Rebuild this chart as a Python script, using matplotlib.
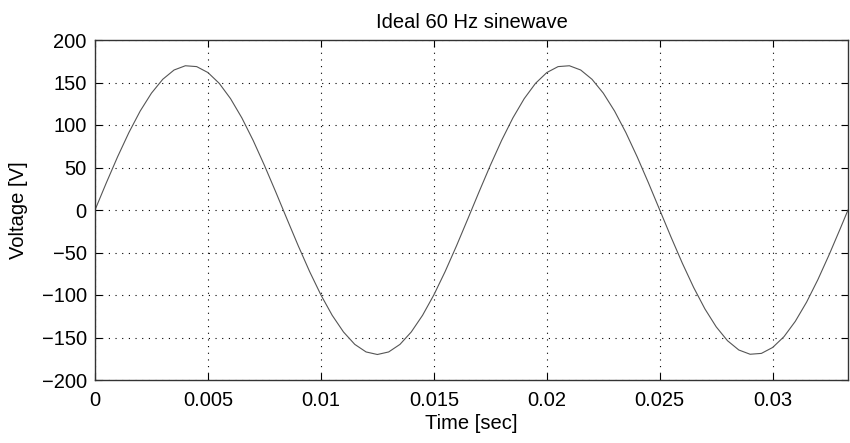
import numpy as np
import matplotlib.pyplot as plt

plt.rcParams['font.family'] = ['Liberation Sans', 'DejaVu Sans']

# Samples every 0.5 ms (last point at 1/30 s)
time_s = list(np.arange(67) * 0.0005) + [1 / 30]
voltage = [
    0, 31.9, 62.6, 91.1, 116.4, 137.5, 153.8, 164.7, 169.7, 168.7,
    161.7, 149.0, 131.0, 108.4, 81.9, 52.5, 21.3, -10.7, -42.3, -72.4,
    -99.9, -123.9, -143.5, -158.1, -167.0, -170.0, -167.0, -158.1, -143.5, -123.9,
    -99.9, -72.4, -42.3, -10.7, 21.3, 52.5, 81.9, 108.4, 131.0, 149.0,
    161.7, 168.7, 169.7, 164.7, 153.8, 137.5, 116.4, 91.1, 62.6, 31.9,
    0, -31.9, -62.6, -91.1, -116.4, -137.5, -153.8, -164.7, -169.7, -168.7,
    -161.7, -149.0, -131.0, -108.4, -81.9, -52.5, -21.3, 0,
]

x_ticks = [0, 0.005, 0.01, 0.015, 0.02, 0.025, 0.03]
x_labels = ["0", "0.005", "0.01", "0.015", "0.02", "0.025", "0.03"]
y_ticks = [-200, -150, -100, -50, 0, 50, 100, 150, 200]
y_labels = ["\u2212200", "\u2212150", "\u2212100", "\u221250", "0", "50", "100", "150", "200"]

fig = plt.figure(figsize=(8.5, 4.43), dpi=100)
ax = fig.add_axes([95 / 850, 1 - 380 / 443, 753 / 850, 340 / 443])

ax.plot(time_s, voltage, color="#555555", linewidth=0.8)

ax.set_xlim(0, 1 / 30)
ax.set_ylim(-200, 200)
ax.set_xticks(x_ticks)
ax.set_xticklabels(x_labels)
ax.set_yticks(y_ticks)
ax.set_yticklabels(y_labels)
ax.tick_params(direction="in", top=True, right=True, labelsize=14.5, length=5, width=0.8)
ax.tick_params(axis="x", pad=8)
ax.tick_params(axis="y", pad=6)

ax.grid(True, linestyle=(0, (1, 5)), color="black", linewidth=0.8)
for s in ax.spines.values():
    s.set_linewidth(1.0)
    s.set_color("#333333")

ax.set_title("Ideal 60 Hz sinewave", fontsize=14.5, pad=9)
ax.set_xlabel("Time [sec]", fontsize=14.5, labelpad=3)
ax.set_ylabel("Voltage [V]", fontsize=14.5, labelpad=10)

fig.savefig("out.png", dpi=100)
